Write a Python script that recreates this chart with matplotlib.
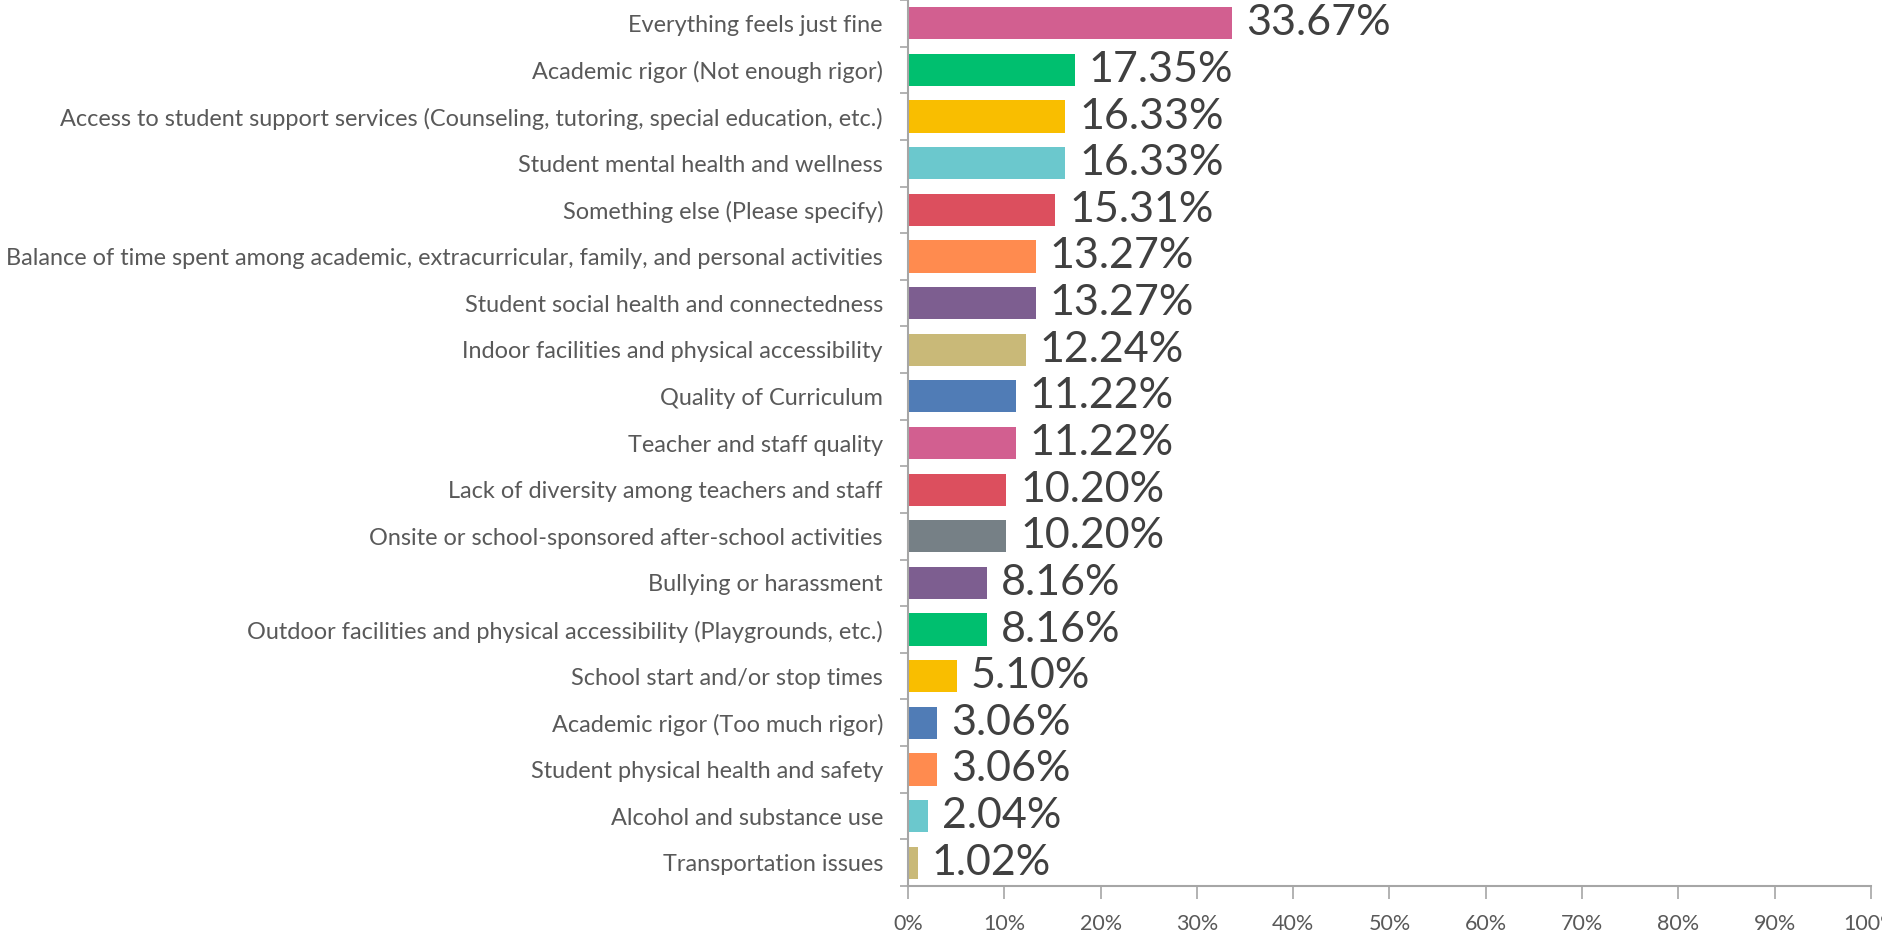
import matplotlib.pyplot as plt
import numpy as np

categories = [
    "Everything feels just fine",
    "Academic rigor (Not enough rigor)",
    "Access to student support services (Counseling, tutoring, special education, etc.)",
    "Student mental health and wellness",
    "Something else (Please specify)",
    "Balance of time spent among academic, extracurricular, family, and personal activities",
    "Student social health and connectedness",
    "Indoor facilities and physical accessibility",
    "Quality of Curriculum",
    "Teacher and staff quality",
    "Lack of diversity among teachers and staff",
    "Onsite or school-sponsored after-school activities",
    "Bullying or harassment",
    "Outdoor facilities and physical accessibility (Playgrounds, etc.)",
    "School start and/or stop times",
    "Academic rigor (Too much rigor)",
    "Student physical health and safety",
    "Alcohol and substance use",
    "Transportation issues",
]
values = [33.67, 17.35, 16.33, 16.33, 15.31, 13.27, 13.27, 12.24, 11.22, 11.22,
          10.20, 10.20, 8.16, 8.16, 5.10, 3.06, 3.06, 2.04, 1.02]
colors = ["#D25F90", "#00BF6F", "#F9BE00", "#6BC8CD", "#DC4F5E", "#FF8B4F",
          "#7D5E90", "#C9B978", "#507CB6", "#D25F90", "#DC4F5E", "#768086",
          "#7D5E90", "#00BF6F", "#F9BE00", "#507CB6", "#FF8B4F", "#6BC8CD",
          "#C9B978"]
xticks = np.arange(0, 101, 10)

plt.rcParams['font.family'] = ['Lato', 'DejaVu Sans']

fig = plt.figure(figsize=(18.83, 9.35), dpi=100)
ax = fig.add_axes([0.4822, 0.0524, 0.5114, 0.9476])

y = np.arange(len(categories))
ax.barh(y, values, height=0.69, color=colors)
for yi, v in zip(y, values):
    ax.annotate(f"{v:.2f}%", (v, yi), xytext=(10, 0), textcoords='offset points',
                va='center', ha='left', fontsize=31, color='#404040')

ax.set_ylim(len(categories) - 0.5, -0.5)
ax.set_xlim(0, 100)
ax.set_yticks(y)
ax.set_yticklabels(categories, fontsize=16.9, color='#595959')
ax.set_yticks(np.arange(len(categories) + 1) - 0.5, minor=True)
ax.tick_params(axis='y', which='major', length=0, pad=18)
ax.tick_params(axis='y', which='minor', length=6, color='#A6A6A6', width=1.2)
ax.set_xticks(xticks)
ax.set_xticklabels([f"{t}%" for t in xticks], fontsize=15.5, color='#595959')
ax.tick_params(axis='x', length=9, color='#A6A6A6', width=1.2, pad=11)

for side in ['top', 'right']:
    ax.spines[side].set_visible(False)
for side in ['left', 'bottom']:
    ax.spines[side].set_color('#A6A6A6')
    ax.spines[side].set_linewidth(1.5)

fig.savefig('out.png', dpi=100)
